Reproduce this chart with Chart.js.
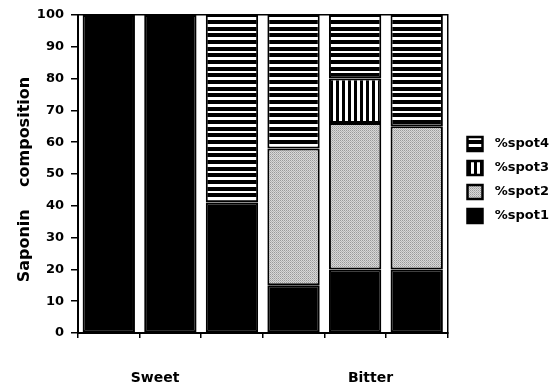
<!DOCTYPE html>
<html>
<head>
<meta charset="utf-8">
<script src="https://cdn.jsdelivr.net/npm/chart.js@4/dist/chart.umd.min.js"></script>
<style>
  html, body { margin: 0; padding: 0; background: #fff; overflow: hidden; }
  #wrap { width: 555px; height: 389px; }
  canvas { display: block; }
</style>
</head>
<body>
<div id="wrap"><canvas id="chart"></canvas></div>
<script>
// Datos (porcentaje de cada mancha por muestra)
const categories = ['Sweet 1', 'Sweet 2', 'Bitter 1', 'Bitter 2', 'Bitter 3', 'Bitter 4'];
const groupNames = ['Sweet', 'Bitter'];
const spot1 = [100, 100, 41, 15, 20, 20];
const spot2 = [0, 0, 0, 43, 46, 45];
const spot3 = [0, 0, 0, 0, 14, 0];
const spot4 = [0, 0, 59, 42, 20, 35];
const seriesNames = ['%spot1', '%spot2', '%spot3', '%spot4'];

const FONT = 'DejaVu Sans';

// Tramas de relleno
function makeTile(w, h, draw) {
    const c = document.createElement('canvas');
    c.width = w; c.height = h;
    const g = c.getContext('2d');
    g.fillStyle = '#fff';
    g.fillRect(0, 0, w, h);
    draw(g);
    return c;
}

const ctx = document.getElementById('chart').getContext('2d');

const hStripes = ctx.createPattern(makeTile(4, 20, g => {
    g.fillStyle = '#000';
    g.fillRect(0, 0, 4, 4);
    g.fillRect(0, 7, 4, 4);
    g.fillRect(0, 13, 4, 4);
}), 'repeat');

const vStripes = ctx.createPattern(makeTile(6, 4, g => {
    g.fillStyle = '#000';
    g.fillRect(0, 0, 3, 4);
}), 'repeat');

const stipple = ctx.createPattern(makeTile(2, 2, g => {
    g.fillStyle = '#d8d8d8';
    g.fillRect(0, 0, 2, 2);
    g.fillStyle = '#9a9a9a';
    g.fillRect(0, 0, 1, 1);
    g.fillStyle = '#b4b4b4';
    g.fillRect(1, 1, 1, 1);
}), 'repeat');

// Marcas menores del eje Y y etiquetas de grupo
const extrasPlugin = {
    id: 'extras',
    afterDraw(chart) {
        const c = chart.ctx;
        const y = chart.scales.y;
        const x = chart.scales.x;
        const area = chart.chartArea;
        c.save();
        c.strokeStyle = '#000';
        c.lineWidth = 1.5;
        y.ticks.forEach(t => {
            if (t.value % 10 !== 0) {
                const py = y.getPixelForValue(t.value);
                c.beginPath();
                c.moveTo(area.left - 4, py);
                c.lineTo(area.left, py);
                c.stroke();
            }
        });
        c.fillStyle = '#000';
        c.font = 'bold 14px ' + FONT;
        c.textAlign = 'center';
        c.textBaseline = 'middle';
        c.fillText(groupNames[0], x.getPixelForValue(0.75), area.bottom + 45);
        c.fillText(groupNames[1], x.getPixelForValue(4.25), area.bottom + 45);
        c.restore();
    }
};

new Chart(ctx, {
    type: 'bar',
    data: {
        labels: categories,
        datasets: [
            { label: seriesNames[0], data: spot1, backgroundColor: '#000' },
            { label: seriesNames[1], data: spot2, backgroundColor: stipple },
            { label: seriesNames[2], data: spot3, backgroundColor: vStripes },
            { label: seriesNames[3], data: spot4, backgroundColor: hStripes }
        ]
    },
    options: {
        responsive: true,
        maintainAspectRatio: false,
        animation: false,
        datasets: {
            bar: {
                barPercentage: 0.85,
                categoryPercentage: 1,
                borderColor: '#000',
                borderWidth: 2,
                borderSkipped: false
            }
        },
        layout: {
            padding: { top: 15, bottom: 44, left: 0, right: 6 }
        },
        scales: {
            x: {
                stacked: true,
                grid: { drawOnChartArea: false, tickLength: 5, color: '#000', lineWidth: 1.5 },
                border: { color: '#000', width: 2 },
                ticks: { display: false },
                afterFit(s) { s.height = 12; }
            },
            y: {
                stacked: true,
                min: 0,
                max: 100,
                ticks: {
                    stepSize: 5,
                    padding: 7,
                    color: '#000',
                    font: { family: FONT, size: 13, weight: 'bold' },
                    callback: v => (v % 10 === 0 ? v : '')
                },
                grid: {
                    drawOnChartArea: false,
                    tickLength: 7,
                    lineWidth: 1.5,
                    tickColor: c => (c.tick && c.tick.value % 10 === 0 ? '#000' : 'rgba(0,0,0,0)')
                },
                border: { color: '#000', width: 2 },
                title: {
                    display: true,
                    text: 'Saponin    composition  ',
                    color: '#000',
                    font: { family: FONT, size: 16, weight: 'bold' },
                    padding: { top: 15, bottom: 0 }
                },
                afterFit(s) { s.width = 78; }
            },
            xTop: {
                type: 'linear',
                position: 'top',
                display: true,
                grid: { display: false },
                ticks: { display: false },
                border: { color: '#000', width: 1.5 },
                afterFit(s) { s.height = 0; }
            },
            yRight: {
                type: 'linear',
                position: 'right',
                display: true,
                grid: { display: false },
                ticks: { display: false },
                border: { color: '#000', width: 1.5 },
                afterFit(s) { s.width = 10; }
            }
        },
        plugins: {
            tooltip: { enabled: false },
            legend: {
                position: 'right',
                reverse: true,
                labels: {
                    color: '#000',
                    boxWidth: 15,
                    boxHeight: 14,
                    padding: 10,
                    textAlign: 'right',
                    font: { family: FONT, size: 13, weight: 'bold' },
                    generateLabels(chart) {
                        const items = Chart.defaults.plugins.legend.labels.generateLabels(chart);
                        return items.map(it => Object.assign(it, {
                            text: '   ' + it.text,
                            textAlign: 'right',
                            lineWidth: 2.5,
                            strokeStyle: '#000'
                        }));
                    }
                }
            }
        }
    },
    plugins: [extrasPlugin]
});
</script>
</body>
</html>
